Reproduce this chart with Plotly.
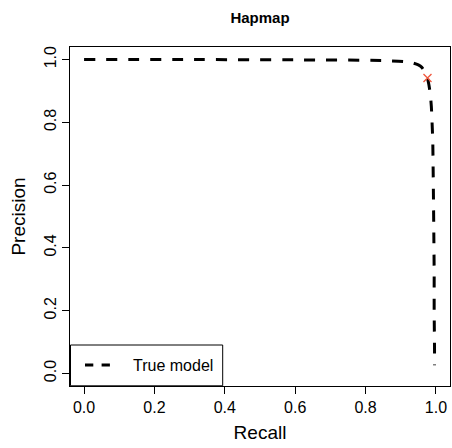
import plotly.graph_objects as go

recall = [0.0, 0.30, 0.60, 0.85, 0.912, 0.935, 0.950, 0.960, 0.968, 0.975, 0.980, 0.984,
          0.987, 0.989, 0.991, 0.992, 0.993, 0.994, 0.995, 0.995, 0.996, 0.996]
precision = [1.0, 1.0, 0.999, 0.997, 0.993, 0.989, 0.983, 0.975, 0.962, 0.945, 0.92, 0.89,
             0.85, 0.80, 0.74, 0.66, 0.56, 0.45, 0.32, 0.20, 0.08, 0.026]
point_recall = [0.976]
point_precision = [0.941]
tick_vals = [0, 0.2, 0.4, 0.6, 0.8, 1.0]
tick_text = ["0.0", "0.2", "0.4", "0.6", "0.8", "1.0"]
legend_label = "True model"

fig = go.Figure()
fig.add_trace(go.Scatter(x=recall, y=precision, mode="lines", name=legend_label, showlegend=False,
                         line=dict(color="black", width=3, dash="11px,11px", shape="spline", smoothing=0.6)))
fig.add_trace(go.Scatter(x=point_recall, y=point_precision, mode="markers", showlegend=False,
                         marker=dict(symbol="x-thin-open", size=8, line=dict(color="red", width=1.3))))

font = "Liberation Sans, Arial, sans-serif"
W, H = 452, 448
ml, mr, mt, mb = 70, 2, 47, 62
pw, ph = W - ml - mr, H - mt - mb

def px_x(p):
    return (p - ml) / pw

def px_y(p):
    return (H - mb - p) / ph

# manual legend (R-style box)
fig.add_shape(type="rect", xref="paper", yref="paper", x0=px_x(70.5), x1=px_x(222.7),
              y0=px_y(385.8), y1=px_y(345), line=dict(color="black", width=1), fillcolor="white",
              layer="above")
fig.add_shape(type="line", xref="paper", yref="paper", x0=px_x(85), x1=px_x(110.5),
              y0=px_y(365), y1=px_y(365), line=dict(color="black", width=3, dash="8.3px,8.3px"),
              layer="above")
fig.add_annotation(text=legend_label, xref="paper", yref="paper", x=px_x(131), y=px_y(365.5),
                   xanchor="left", yanchor="middle", showarrow=False, font=dict(size=16))

fig.update_layout(
    width=W, height=H,
    margin=dict(l=ml, r=mr, t=mt, b=mb),
    plot_bgcolor="white", paper_bgcolor="white",
    font=dict(family=font, size=16, color="black"),
    title=dict(text="<b>Hapmap</b>", x=0.5, xref="paper", y=1 - 18 / H, yanchor="middle",
               font=dict(size=15)),
    showlegend=False,
)
fig.update_xaxes(range=[-0.04, 1.04], tickvals=tick_vals, ticktext=tick_text,
                 showline=True, mirror=True, linecolor="black", linewidth=1,
                 ticks="outside", ticklen=7, tickcolor="black", showgrid=False, zeroline=False,
                 title=dict(text="Recall", standoff=10))
fig.update_yaxes(range=[-0.04, 1.04], tickvals=tick_vals, ticktext=tick_text, tickangle=-90,
                 showline=True, mirror=True, linecolor="black", linewidth=1,
                 ticks="outside", ticklen=7, tickcolor="black", showgrid=False, zeroline=False,
                 title=dict(text="Precision", standoff=10))
fig.write_html("out.html")
